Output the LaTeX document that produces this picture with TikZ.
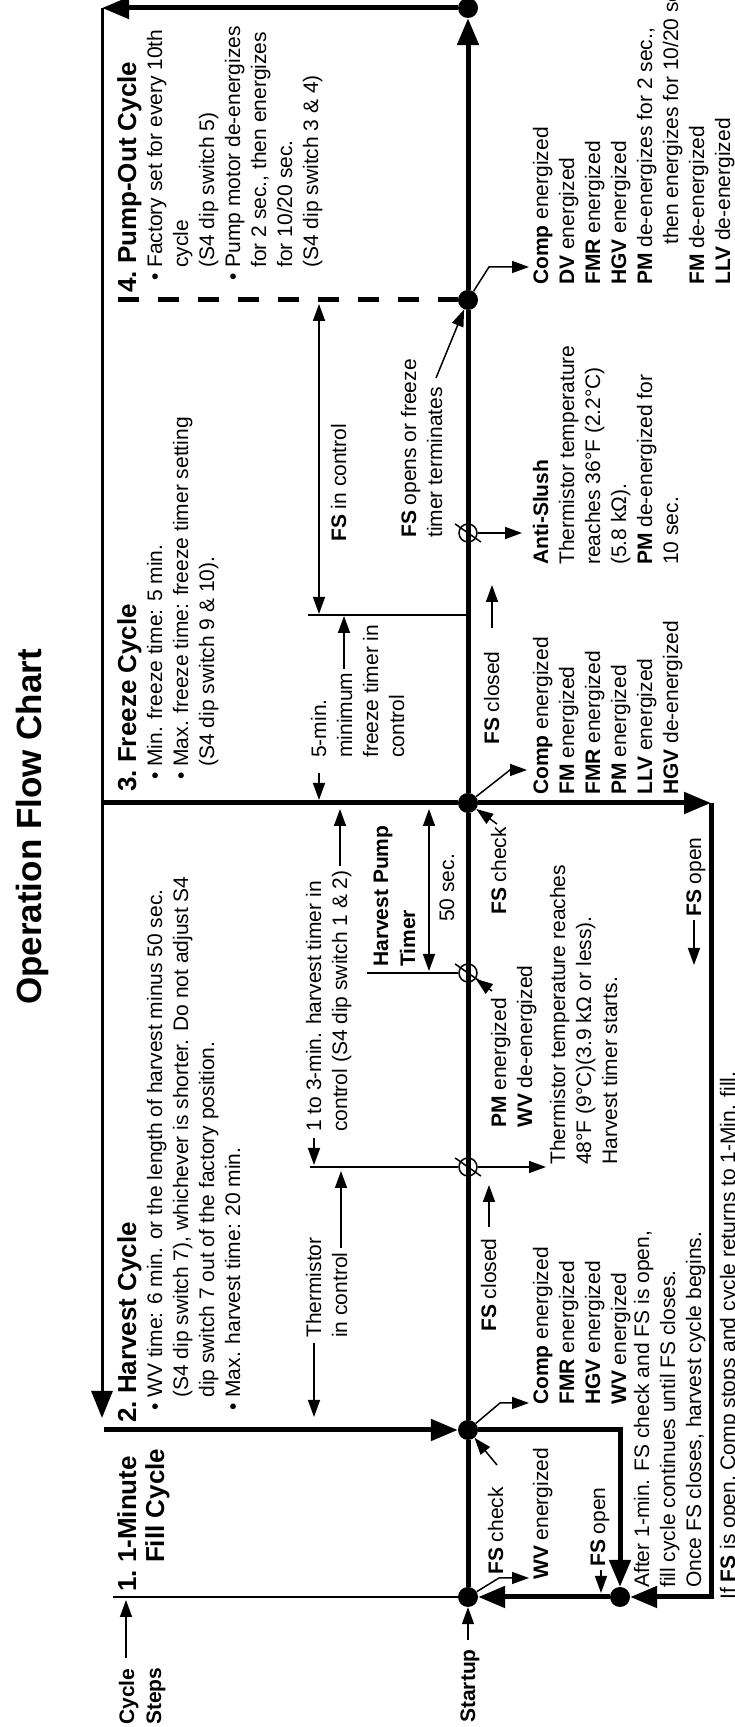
\documentclass[tikz,border=0pt]{standalone}
\usepackage{fontspec}
\setmainfont{Liberation Sans}
\usepackage{tikz}
\usetikzlibrary{arrows.meta}

\begin{document}
\begin{tikzpicture}[-,rotate=90,transform shape,x=1pt,y=1pt]
\tikzstyle{dot}=[circle,fill=black,inner sep=0pt,minimum size=20pt]
\tikzstyle{cut}=[circle,draw=black,line width=1.5pt,inner sep=0pt,minimum size=18pt]
\tikzstyle{txt}=[anchor=base west,inner sep=0pt,align=left,font=\fontsize{21}{26}\selectfont]
\tikzstyle{txtb}=[txt,font=\fontsize{21}{27}\selectfont\bfseries]
\tikzstyle{head}=[txt,font=\fontsize{26}{28}\selectfont\bfseries]
\tikzstyle{ttl}=[anchor=base,inner sep=0pt,font=\fontsize{35}{40}\selectfont\bfseries]
\tikzstyle{flow}=[line width=5pt]
\tikzstyle{backline}=[line width=3pt]
\tikzstyle{fine}=[line width=1.5pt]
\tikzstyle{slash}=[line width=1.5pt,shorten <=-6pt,shorten >=-6pt]
\tikzstyle{bigarr}=[-{Triangle[length=27pt,width=21pt]}]
\tikzstyle{arr}=[-{Triangle[length=17pt,width=12pt]}]
\tikzstyle{dimarr}=[{Triangle[length=17pt,width=12pt]}-{Triangle[length=17pt,width=12pt]}]

\useasboundingbox (0,-734) rectangle (1727,0);
\fill [white] (0,-734) rectangle (1727,0);

\node [ttl] (title) at(900,-41) {Operation Flow Chart};

\node [dot] (s) at(130,-468) {};
\node [dot] (f) at(130,-620) {};
\node [dot] (h) at(297,-468) {};
\node [dot] (z) at(924,-468) {};
\node [dot] (p) at(1427,-468) {};
\node [dot] (t) at(1719,-468) {};

\node [cut] (c1) at(560,-468) {};
\node [cut] (c2) at(754,-468) {};
\node [cut] (c3) at(1194,-468) {};

\coordinate (tl) at(1719,-102);
\coordinate (hx) at(309,-102);
\coordinate (hs) at(297,-104);
\coordinate (zl) at(924,-102);
\coordinate (pd) at(1427,-118);
\coordinate (sl) at(130,-113);
\coordinate (hr) at(297,-620);
\coordinate (zr) at(924,-711);
\coordinate (fr) at(130,-711);
\coordinate (k1) at(560,-310);
\coordinate (k2) at(754,-367);
\coordinate (k3) at(1112,-308);
\coordinate (k3m) at(1112,-466);
\coordinate (a1) at(560,-546);
\coordinate (a2) at(736,-492);
\coordinate (a3) at(1194,-522);
\coordinate (g1) at(149,-499);
\coordinate (e1) at(149,-529);
\coordinate (g2) at(324,-500);
\coordinate (e2) at(324,-529);
\coordinate (g3) at(957,-510);
\coordinate (e3) at(957,-527);
\coordinate (g4) at(1460,-489);
\coordinate (e4) at(1460,-529);
\coordinate (q1) at(262,-497);
\coordinate (q2) at(903,-497);
\coordinate (q3) at(1349,-436);

\draw [flow] (s) -- (h);
\draw [flow] (h) -- (z);
\draw [flow] (z) -- (p);
\draw [flow,bigarr] (p) -- (t);
\draw [flow,bigarr] (t) -- (tl);
\draw [backline,bigarr] (tl) -- (hx);
\draw [flow,bigarr] (hs) -- (h);
\draw [flow] (zl) -- (z);
\draw [flow,bigarr] (z) -- (zr);
\draw [flow,bigarr] (zr) -- (fr) -- (f);
\draw [flow,bigarr] (h) -- (hr) -- (f);
\draw [flow,bigarr] (f) -- (s);
\draw [flow,dash pattern=on 21pt off 19pt] (pd) -- (p);
\draw [fine] (sl) -- (s);

\draw [fine] (k1) -- (c1);
\draw [fine] (k2) -- (c2);
\draw [fine] (k3) -- (k3m);
\draw [slash] (c1.55) -- (c1.235);
\draw [slash] (c2.55) -- (c2.235);
\draw [slash] (c3.55) -- (c3.235);
\draw [fine,arr] (c1) -- (a1);
\draw [fine,arr] (a2) -- (c2);
\draw [fine,arr] (c3) -- (a3);

\draw [fine,arr] (s) -- (g1) -- (e1);
\draw [fine,arr] (h) -- (g2) -- (e2);
\draw [fine,arr] (z) -- (g3) -- (e3);
\draw [fine,arr] (p) -- (g4) -- (e4);
\draw [fine,arr] (q1) -- (h);
\draw [fine,arr] (q2) -- (z);
\draw [fine,arr] (q3) -- (p);

\node [head] (h1) at(135,-164) {1.~1-Minute\\\phantom{1.~}Fill Cycle};
\node [head] (h2) at(304,-136) {2.~Harvest Cycle};
\node [head] (h3) at(935,-136) {3.~Freeze Cycle};
\node [head] (h4) at(1434,-136) {4.~Pump-Out Cycle};

\node [txt] (b2) at(316,-240) {\textbullet~WV time: 6 min. or the length of harvest minus 50 sec.\\
\phantom{\textbullet~}(S4 dip switch 7), whichever is shorter. Do not adjust S4\\
\phantom{\textbullet~}dip switch 7 out of the factory position.\\
\textbullet~Max. harvest time: 20 min.};
\node [txt] (b3) at(947,-214) {\textbullet~Min. freeze time: 5 min.\\
\textbullet~Max. freeze time: freeze timer setting\\
\phantom{\textbullet~}(S4 dip switch 9 \& 10).};
\node [txt] (b4) at(1446,-318) {\textbullet~Factory set for every 10th\\
\phantom{\textbullet~}cycle\\
\phantom{\textbullet~}(S4 dip switch 5)\\
\textbullet~Pump motor de-energizes\\
\phantom{\textbullet~}for 2 sec., then energizes\\
\phantom{\textbullet~}for 10/20 sec.\\
\phantom{\textbullet~}(S4 dip switch 3 \& 4)};

\node [txtb] (cs) at(2,-161) {Cycle\\Steps};
\node [txtb] (su) at(4,-475) {Startup};
\coordinate (d13a) at(69,-126);
\coordinate (d13b) at(127,-126);
\coordinate (d14a) at(87,-468);
\draw [fine,arr] (d13a) -- (d13b);
\draw [fine,arr] (d14a) -- (s);

\node [txt] (l1) at(147,-548) {\textbf{WV} energized};
\node [txt] (l2) at(322,-626) {\textbf{Comp} energized\\\textbf{FMR} energized\\\textbf{HGV} energized\\\textbf{WV} energized};
\node [txt] (l3) at(932,-678) {\textbf{Comp} energized\\\textbf{FM} energized\\\textbf{FMR} energized\\\textbf{PM} energized\\\textbf{LLV} energized\\\textbf{HGV} de-energized};
\node [txt] (l4) at(1442,-730) {\textbf{Comp} energized\\\textbf{DV} energized\\\textbf{FMR} energized\\\textbf{HGV} energized\\\textbf{PM} de-energizes for 2 sec.,\\\hspace*{40pt}then energizes for 10/20 sec.\\\textbf{FM} de-energized\\\textbf{LLV} de-energized};
\node [txt] (l5) at(1162,-678) {\textbf{Anti-Slush}\\Thermistor temperature\\reaches 36°F (2.2°C)\\(5.8 kΩ).\\\textbf{PM} de-energized for\\10 sec.};
\node [txt] (l6) at(562,-617) {Thermistor temperature reaches\\48°F (9°C)(3.9 kΩ or less).\\Harvest timer starts.};
\node [txt] (l7) at(599,-532) {\textbf{PM} energized\\\textbf{WV} de-energized};
\node [txt] (l8) at(139,-701) {After 1-min. FS check and FS is open,\\fill cycle continues until FS closes.\\Once FS closes, harvest cycle begins.};
\node [txt] (l9) at(127,-735) {If \textbf{FS} is open, Comp stops and cycle returns to 1-Min. fill.};

\node [txt] (fc1) at(152,-503) {\textbf{FS} check};
\node [txt] (fc2) at(812,-506) {\textbf{FS} check};
\node [txt] (fk1) at(395,-496) {\textbf{FS} closed};
\node [txt] (fk2) at(982,-499) {\textbf{FS} closed};
\node [txt] (fo1) at(160,-605) {\textbf{FS} open};
\node [txt] (fo2) at(810,-701) {\textbf{FS} open};
\coordinate (d9a) at(500,-489);
\coordinate (d9b) at(542,-489);
\coordinate (d10a) at(1099,-492);
\coordinate (d10b) at(1142,-492);
\coordinate (d11a) at(157,-601);
\coordinate (d11b) at(134,-601);
\coordinate (d12a) at(807,-694);
\coordinate (d12b) at(762,-694);
\draw [fine,arr] (d9a) -- (d9b);
\draw [fine,arr] (d10a) -- (d10b);
\draw [fine,arr] (d11a) -- (d11b);
\draw [fine,arr] (d12a) -- (d12b);

\node [txt] (th) at(389,-347) {Thermistor\\in control};
\node [txt] (ht) at(595,-347) {1 to 3-min. harvest timer in\\control (S4 dip switch 1 \& 2)};
\node [txtb] (hp) at(760,-415) {Harvest Pump\\Timer};
\node [txt] (fs) at(805,-454) {50 sec.};
\node [txt] (mn) at(969,-404) {5-min.\\minimum\\freeze timer in\\control};
\node [txt] (fi) at(1185,-346) {\textbf{FS} in control};
\node [txt] (ft) at(1189,-442) {\textbf{FS} opens or freeze\\timer terminates};
\coordinate (d1a) at(384,-314);
\coordinate (d1b) at(310,-314);
\coordinate (d2a) at(479,-341);
\coordinate (d2b) at(556,-341);
\coordinate (d3a) at(589,-314);
\coordinate (d3b) at(562,-314);
\coordinate (d4a) at(861,-340);
\coordinate (d4b) at(918,-340);
\coordinate (d5a) at(756,-429);
\coordinate (d5b) at(918,-429);
\coordinate (d6a) at(954,-319);
\coordinate (d6b) at(927,-319);
\coordinate (d7a) at(1058,-344);
\coordinate (d7b) at(1111,-344);
\coordinate (d8a) at(1113,-319);
\coordinate (d8b) at(1423,-319);
\draw [fine,arr] (d1a) -- (d1b);
\draw [fine,arr] (d2a) -- (d2b);
\draw [fine,arr] (d3a) -- (d3b);
\draw [fine,arr] (d4a) -- (d4b);
\draw [fine,dimarr] (d5a) -- (d5b);
\draw [fine,arr] (d6a) -- (d6b);
\draw [fine,arr] (d7a) -- (d7b);
\draw [fine,dimarr] (d8a) -- (d8b);
\end{tikzpicture}
\end{document}
